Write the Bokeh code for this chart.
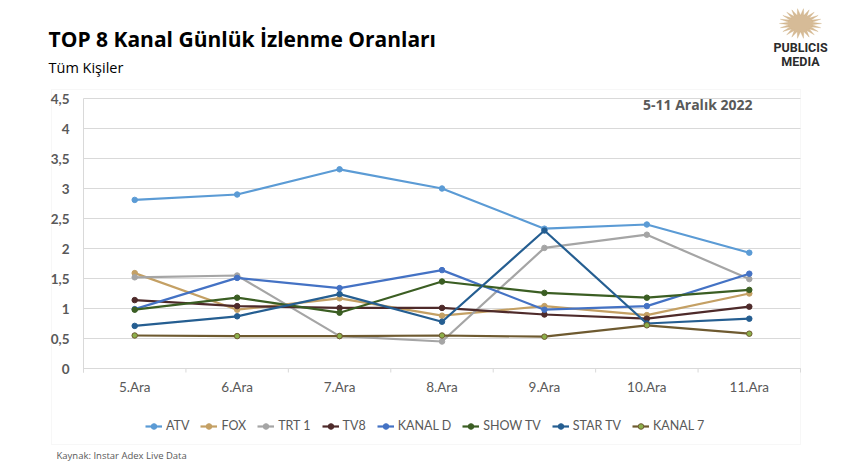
import math
from bokeh.plotting import figure
from bokeh.models import (Range1d, FixedTicker, Label, Legend, LegendItem,
                          BoxAnnotation, PolyAnnotation, ColumnDataSource)
from bokeh.embed import file_html
from bokeh.resources import INLINE

# ---------------- data ----------------
days = ["5.Ara", "6.Ara", "7.Ara", "8.Ara", "9.Ara", "10.Ara", "11.Ara"]
atv     = [2.81, 2.90, 3.32, 3.00, 2.33, 2.40, 1.93]
fox     = [1.59, 0.98, 1.17, 0.88, 1.04, 0.89, 1.25]
trt1    = [1.52, 1.55, 0.54, 0.45, 2.01, 2.23, 1.49]
tv8     = [1.14, 1.04, 1.01, 1.01, 0.90, 0.83, 1.03]
kanal_d = [0.99, 1.51, 1.34, 1.64, 0.98, 1.04, 1.58]
show_tv = [0.98, 1.18, 0.93, 1.45, 1.26, 1.18, 1.31]
star_tv = [0.71, 0.87, 1.24, 0.78, 2.30, 0.75, 0.83]
kanal_7 = [0.55, 0.54, 0.54, 0.55, 0.53, 0.72, 0.58]

series_names = ["ATV", "FOX", "TRT 1", "TV8", "KANAL D", "SHOW TV", "STAR TV", "KANAL 7"]
series_values = [atv, fox, trt1, tv8, kanal_d, show_tv, star_tv, kanal_7]
series_colors = ["#5B9BD5", "#C4A064", "#A5A5A5", "#4E2A2A", "#4472C4", "#3B5E23", "#255E91", "#6E5A30"]
marker_fills = ["#5B9BD5", "#C4A064", "#A5A5A5", "#4E2A2A", "#4472C4", "#3B5E23", "#255E91", "#8CB04A"]

y_ticks = [0, 0.5, 1, 1.5, 2, 2.5, 3, 3.5, 4, 4.5]
y_tick_labels = ["0", "0,5", "1", "1,5", "2", "2,5", "3", "3,5", "4", "4,5"]

title_text = "TOP 8 Kanal Günlük İzlenme Oranları"
subtitle_text = "Tüm Kişiler"
period_text = "5-11 Aralık 2022"
source_text = "Kaynak: Instar  Adex Live Data"

# ---------------- layout geometry (page pixels) ----------------
W, H = 842, 469
PL, PR = 83, 800          # plot area left / right
Y0, Y45 = 368, 98         # pixel rows of value 0 and 4.5
n = len(days)
px_x = (PR - PL) / n
px_y = (Y0 - Y45) / 4.5
tick_len = 4 / px_y

x_range = Range1d(-PL / px_x, (W - PL) / px_x)
y_range = Range1d((Y0 - H) / px_y, Y0 / px_y)

p = figure(width=W, height=H, output_backend="svg", toolbar_location=None,
           x_range=x_range, y_range=y_range,
           min_border=0, min_border_left=0, min_border_right=0,
           min_border_top=0, min_border_bottom=0)
p.title.visible = False
p.outline_line_color = None
p.background_fill_color = "white"
p.border_fill_color = "white"

xs = [i + 0.5 for i in range(n)]

# grid lines (limited to the plot area)
p.segment(x0=[0] * len(y_ticks), y0=y_ticks, x1=[n] * len(y_ticks), y1=y_ticks,
          line_color="#D9D9D9", line_width=1)
p.xgrid.visible = False
p.ygrid.visible = False

# category boundary ticks below the zero line
bounds = list(range(n + 1))
p.segment(x0=bounds, y0=[-tick_len] * len(bounds), x1=bounds, y1=[0] * len(bounds),
          line_color="#D9D9D9", line_width=1)

# y axis
ya = p.yaxis[0]
ya.fixed_location = 0
ya.bounds = (-tick_len, 4.5)
ya.ticker = FixedTicker(ticks=y_ticks)
ya.major_label_overrides = {t: l for t, l in zip(y_ticks, y_tick_labels)}
ya.major_tick_line_color = None
ya.major_tick_out = 0
ya.major_tick_in = 0
ya.minor_tick_line_color = None
ya.axis_line_color = "#D9D9D9"
ya.major_label_text_font = "Lato"
ya.major_label_text_font_style = "bold"
ya.major_label_text_font_size = "13.5px"
ya.major_label_text_color = "#595959"
ya.major_label_standoff = 14

# x axis
xa = p.xaxis[0]
xa.fixed_location = 0
xa.bounds = (0, n)
xa.ticker = FixedTicker(ticks=xs)
xa.major_label_overrides = {x: d for x, d in zip(xs, days)}
xa.major_tick_line_color = None
xa.major_tick_out = 0
xa.major_tick_in = 0
xa.minor_tick_line_color = None
xa.axis_line_color = "#D9D9D9"
xa.major_label_text_font = "Lato"
xa.major_label_text_font_size = "13.5px"
xa.major_label_text_color = "#595959"
xa.major_label_standoff = 10

# series
items = []
for name, vals, col, mf in zip(series_names, series_values, series_colors, marker_fills):
    src = ColumnDataSource(dict(x=xs, y=vals))
    r1 = p.line("x", "y", source=src, line_color=col, line_width=2.2)
    r2 = p.scatter("x", "y", source=src, marker="circle", size=5.5,
                   fill_color=mf, line_color=col, line_width=1)
    items.append(LegendItem(label=name, renderers=[r1, r2]))

def sx(X):
    return X

def sy(Y):
    return H - Y

legend = Legend(items=items, orientation="horizontal",
                location=(sx(145), sy(426) - 7),
                glyph_width=17, glyph_height=14, label_standoff=4, spacing=11,
                padding=0, margin=0, border_line_color=None,
                background_fill_alpha=0,
                label_text_font="Lato", label_text_font_size="12.5px",
                label_text_color="#595959", label_height=14)
p.add_layout(legend, "center")

# chart border
p.add_layout(BoxAnnotation(left=sx(51), right=sx(800), top=sy(89), bottom=sy(444),
                           left_units="screen", right_units="screen",
                           top_units="screen", bottom_units="screen",
                           fill_alpha=0, line_color="#E6E6E6", line_width=1,
                           level="underlay"))

# texts (vertical centres)
p.add_layout(Label(x=sx(48), y=sy(38.5), x_units="screen", y_units="screen",
                   text=title_text, text_font="Open Sans", text_font_style="bold",
                   text_font_size="21px", text_color="#000000",
                   text_baseline="middle"))
p.add_layout(Label(x=sx(48), y=sy(67), x_units="screen", y_units="screen",
                   text=subtitle_text, text_font="Open Sans",
                   text_font_size="14.5px", text_color="#000000",
                   text_baseline="middle"))
p.add_layout(Label(x=sx(752), y=sy(103.5), x_units="screen", y_units="screen",
                   text=period_text, text_font="Open Sans", text_font_style="bold",
                   text_font_size="14px", text_color="#595959",
                   text_align="right", text_baseline="middle"))
p.add_layout(Label(x=sx(56), y=sy(455), x_units="screen", y_units="screen",
                   text=source_text, text_font="Open Sans",
                   text_font_size="9.5px", text_color="#595959",
                   text_baseline="middle"))

# logo
cx, cy = 800, 23
pts_x, pts_y = [], []
rays = 22
for k in range(2 * rays):
    a = math.pi * k / rays
    r = 1.0 if k % 2 == 0 else 0.55
    pts_x.append(sx(cx + 21 * r * math.cos(a)))
    pts_y.append(sy(cy - 15 * r * math.sin(a)))
p.add_layout(PolyAnnotation(xs=pts_x, ys=pts_y, xs_units="screen", ys_units="screen",
                            fill_color="#D2B48C", fill_alpha=0.9, line_color="#C9A878",
                            line_width=1))
p.add_layout(Label(x=sx(800), y=sy(46.5), x_units="screen", y_units="screen",
                   text="PUBLICIS", text_font="Roboto", text_font_style="bold",
                   text_font_size="12.5px", text_color="#2B2B2B",
                   text_align="center", text_baseline="middle"))
p.add_layout(Label(x=sx(800), y=sy(60.5), x_units="screen", y_units="screen",
                   text="MEDIA", text_font="Roboto", text_font_style="bold",
                   text_font_size="12.5px", text_color="#2B2B2B",
                   text_align="center", text_baseline="middle"))

open("out.html", "w").write(file_html(p, INLINE))
